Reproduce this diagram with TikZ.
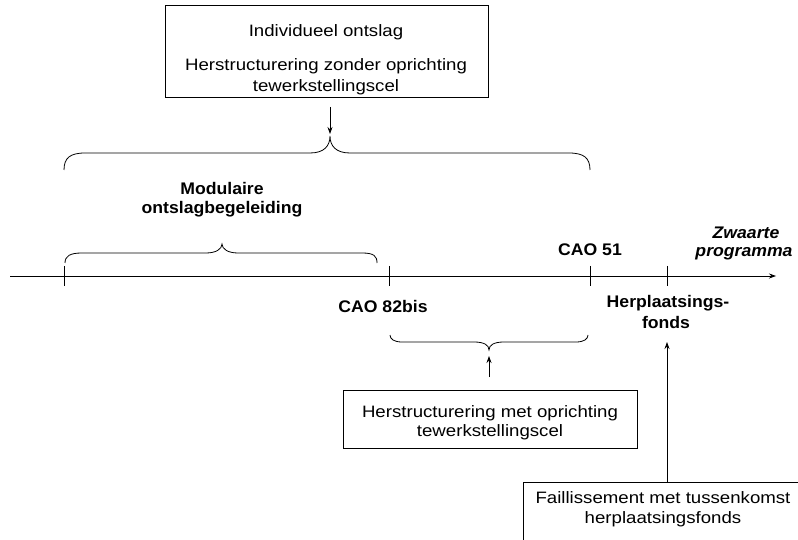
\documentclass[tikz,border=0pt]{standalone}
\usepackage{fontspec}
\setmainfont{Liberation Sans}[FakeStretch=1.05]
\newfontfamily\boxfont{Liberation Sans}[FakeStretch=1.13]
\usetikzlibrary{arrows.meta}
\begin{document}
\begin{tikzpicture}[x=1pt,y=-1pt,
  box/.style={draw,line width=0.8pt},
  txt/.style={font=\boxfont\fontsize{16.5}{19}\selectfont,inner sep=0pt,anchor=base},
  lbl/.style={font=\fontsize{16.8}{19}\selectfont\bfseries,inner sep=0pt,anchor=base},
  ln/.style={line width=0.8pt},
  arr/.style={line width=0.8pt,-{Stealth[length=7pt,width=5pt]}}]
\useasboundingbox (0,0) rectangle (798,540);
% axis
\coordinate (a0) at (10,276);
\coordinate (a1) at (776,276);
\draw[arr] (a0) -- (a1);
\foreach \x/\n in {64/t1,389/t2,590/t3,667/t4}{
  \coordinate (\n) at (\x,276);
  \draw[ln] (\x,266) -- (\x,286);
}
% top box
\draw[box] (165,5) rectangle (488,97);
\coordinate (topbox) at (330,107);
\node[txt] (tb1) at (326,37) {Individueel ontslag};
\node[txt] (tb2) at (326,71) {Herstructurering zonder oprichting};
\node[txt] (tb3) at (326,92) {tewerkstellingscel};
\coordinate (peakA) at (330,134);
\draw[arr] (topbox) -- (peakA);
% big brace
\draw[ln] (64,170) .. controls (64,158) and (70,153) .. (85,153) -- (310,153)
  .. controls (324,153) and (330,146) .. (330,136)
  .. controls (330,146) and (336,153) .. (350,153) -- (569,153)
  .. controls (584,153) and (590,158) .. (590,170);
% small brace
\draw[ln] (65,263) .. controls (65,256) and (70,253) .. (82,253) -- (206,253)
  .. controls (216,253) and (222,249) .. (222,244)
  .. controls (222,249) and (228,253) .. (238,253) -- (362,253)
  .. controls (374,253) and (377,256) .. (377,263);
\node[lbl] (mod1) at (222,195) {Modulaire};
\node[lbl] (mod2) at (222,214) {ontslagbegeleiding};
% labels on axis
\node[lbl] (cao51) at (590,255) {CAO 51};
\node[lbl,font=\fontsize{16.8}{19}\selectfont\bfseries\itshape] (zw1) at (746,239) {Zwaarte};
\node[lbl,font=\fontsize{16.8}{19}\selectfont\bfseries\itshape] (zw2) at (744,257) {programma};
\node[lbl] (cao82) at (383,312) {CAO 82bis};
\node[lbl] (herpl1) at (668,307) {Herplaatsings-};
\node[lbl] (herpl2) at (666,328) {fonds};
% lower brace
\draw[ln] (390,335) .. controls (390,339) and (394,342) .. (402,342) -- (474,342)
  .. controls (484,342) and (489,345) .. (489,350)
  .. controls (489,345) and (494,342) .. (504,342) -- (576,342)
  .. controls (584,342) and (588,339) .. (588,335);
\draw[box] (343,390) rectangle (637,448);
\coordinate (midtop) at (489,377);
\node[txt] (mb1) at (490,417) {Herstructurering met oprichting};
\node[txt] (mb2) at (490,436) {tewerkstellingscel};
\coordinate (peakB) at (489,356);
\draw[arr] (midtop) -- (peakB);
% bottom box
\draw[box] (523,482) rectangle (812,552);
\coordinate (botbox) at (667,482);
\coordinate (herplpt) at (667,342);
\node[txt] (bb1) at (663,503) {Faillissement met tussenkomst};
\node[txt] (bb2) at (663,523) {herplaatsingsfonds};
\draw[arr] (botbox) -- (herplpt);
\end{tikzpicture}
\end{document}
